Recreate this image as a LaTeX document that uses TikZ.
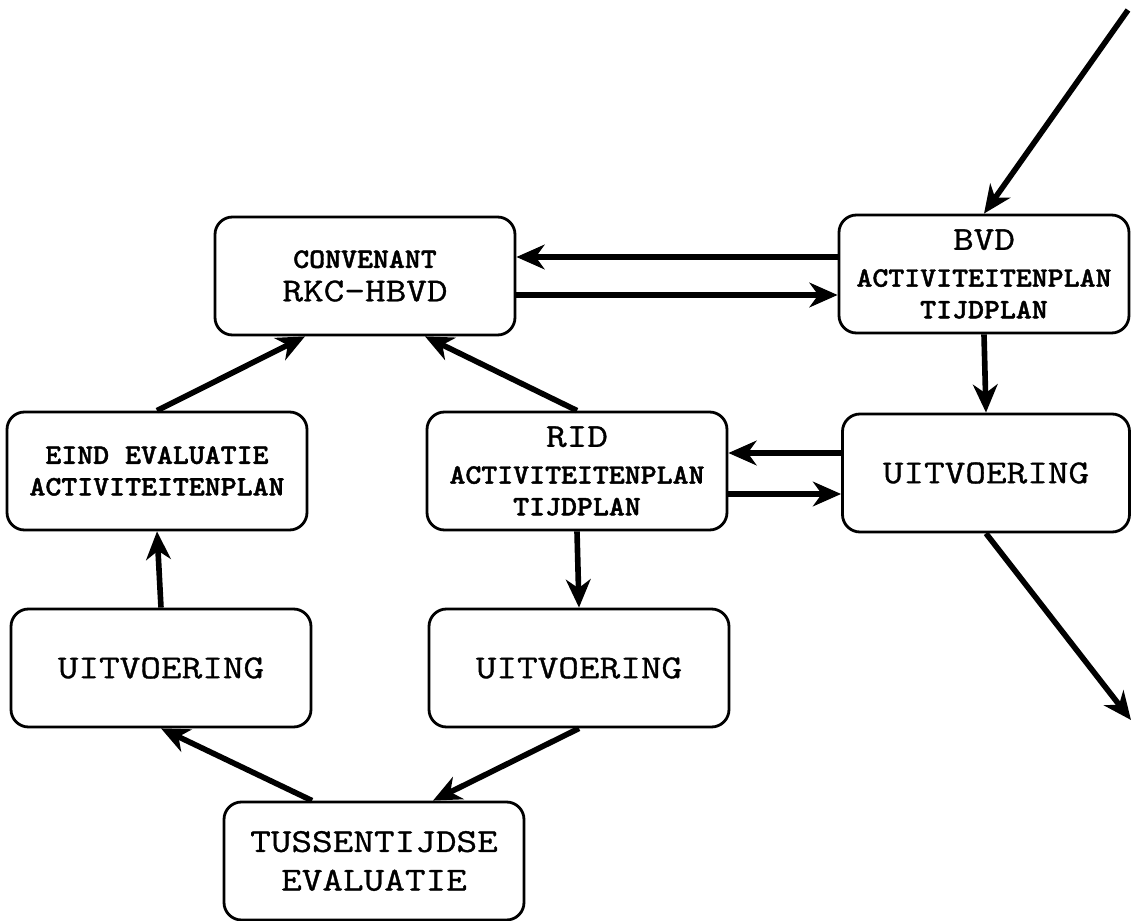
\documentclass[tikz,border=0pt]{standalone}
\usepackage{fontspec}
\newfontfamily\grootletter[FakeStretch = 1.2, FakeBold = 1]{lmmono12-regular.otf}
\newfontfamily\kleinletter[FakeStretch = 1.08, FakeBold = 1.5]{lmmonolt10-bold.otf}
\usetikzlibrary{arrows.meta}

\newcommand{\groot}{\grootletter\fontsize{19}{22}\selectfont}
\newcommand{\klein}{\kleinletter\fontsize{16}{18}\selectfont}

\begin{document}
\begin{tikzpicture}[font = \klein,
        blok/.style = {draw, line width = 1.6pt, rounded corners = 3.5mm, align = center,
            minimum width = 6cm, minimum height = 2.36cm, inner sep = 2pt},
        pijl/.style = {line width = 3.2pt, -{Stealth[length = 16pt, width = 14pt, inset = 5pt]}}]
        \useasboundingbox (0,0) rectangle (22.62,-18.42);

        \node[blok] (conv) at (7.3,-5.52) {CONVENANT\\[1pt]{\groot RKC-HBVD}};
        \node[blok, minimum width = 5.8cm] (bvd) at (19.68,-5.48) {{\groot BVD}\\[3pt]ACTIVITEITENPLAN\\TIJDPLAN};
        \node[blok] (eind) at (3.14,-9.42) {EIND EVALUATIE\\ACTIVITEITENPLAN};
        \node[blok] (rid) at (11.54,-9.42) {{\groot RID}\\[3pt]ACTIVITEITENPLAN\\TIJDPLAN};
        \node[blok, minimum width = 5.74cm, font = \groot] (uitv1) at (19.72,-9.46) {UITVOERING};
        \node[blok, font = \groot] (uitv2) at (3.22,-13.36) {UITVOERING};
        \node[blok, font = \groot] (uitv3) at (11.58,-13.36) {UITVOERING};
        \node[blok, font = \groot] (tuss) at (7.48,-17.22) {TUSSENTIJDSE\\EVALUATIE};

        \coordinate (in) at (22.56,-0.2);
        \coordinate (uit) at (22.62,-14.4);

        \draw[pijl] (in) -- (bvd.north);
        \draw[pijl] ([yshift = 3.8mm]conv.east -| bvd.west) -- ([yshift = 3.8mm]conv.east);
        \draw[pijl] ([yshift = -3.8mm]conv.east) -- ([yshift = -3.8mm]conv.east -| bvd.west);
        \draw[pijl] (bvd.south) -- (uitv1.north);
        \draw[pijl] ([yshift = 3.6mm]rid.east -| uitv1.west) -- ([yshift = 3.6mm]rid.east);
        \draw[pijl] ([yshift = -4.6mm]rid.east) -- ([yshift = -4.6mm]rid.east -| uitv1.west);
        \draw[pijl] (uitv1.south) -- (uit);
        \draw[pijl] (rid.north) -- ([xshift = 1.2cm]conv.south);
        \draw[pijl] (eind.north) -- ([xshift = -1.2cm]conv.south);
        \draw[pijl] (uitv2.north) -- (eind.south);
        \draw[pijl] (rid.south) -- (uitv3.north);
        \draw[pijl] (uitv3.south) -- ([xshift = 1.18cm]tuss.north);
        \draw[pijl] ([xshift = -1.24cm]tuss.north) -- (uitv2.south);
    \end{tikzpicture}
\end{document}
